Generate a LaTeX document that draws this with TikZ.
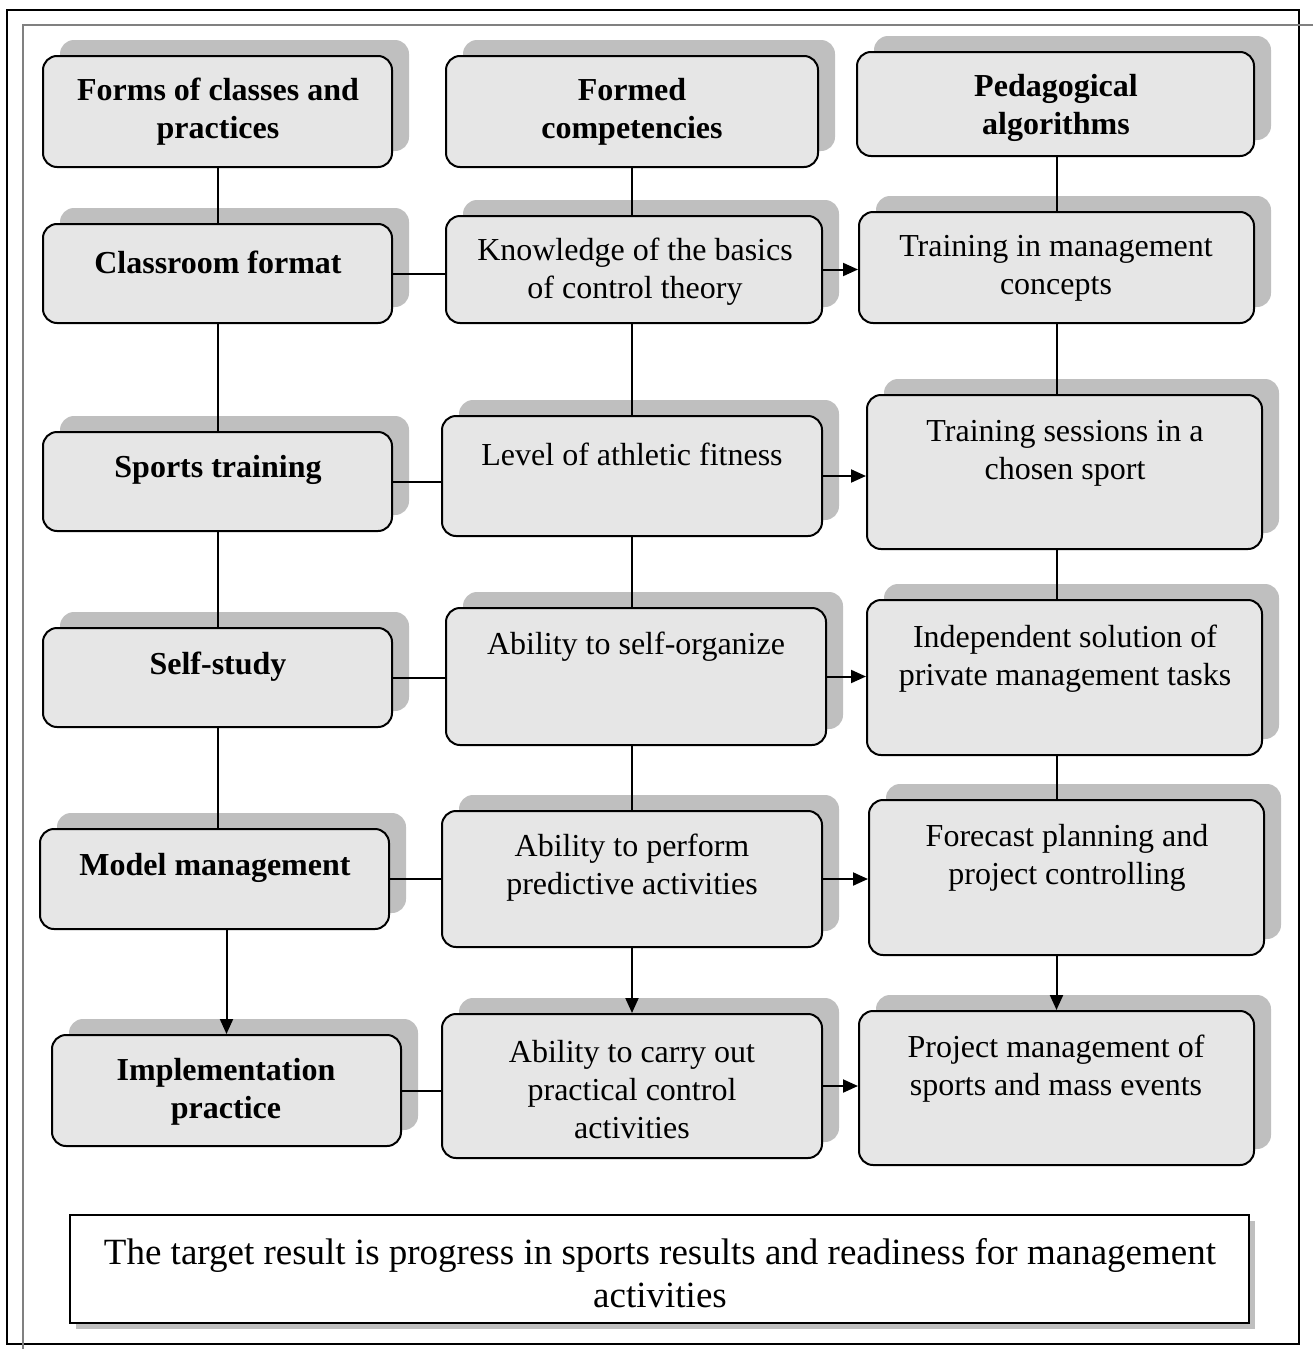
\documentclass[tikz,border=0pt]{standalone}
\usepackage{fontspec}
\setmainfont{Liberation Serif}
\usetikzlibrary{arrows.meta,fit}
\definecolor{boxfill}{HTML}{E6E6E6}
\definecolor{shadowc}{HTML}{BFBFBF}
\definecolor{framegray}{HTML}{808080}
\tikzset{
  box/.style={draw=black, line width=1pt, fill=boxfill, rounded corners=7pt, inner sep=0pt},
  shd/.style={fill=shadowc, rounded corners=7pt},
  txt/.style={align=center, font=\fontsize{16}{19}\selectfont, inner sep=0pt},
  btxt/.style={txt, font=\fontsize{16}{19}\selectfont\bfseries},
  conn/.style={line width=1pt},
  arr/.style={line width=1pt, -{Triangle[length=7.5pt,width=6.5pt]}}
}
\newcommand\mybox[5]{%
  \fill[shd, shift={(17,-16)}] (#2,#3) rectangle (#4,#5);
  \node[box, fit={(#2,#3)(#4,#5)}] (#1) {};
}
\begin{document}
\begin{tikzpicture}[x=0.5pt,y=-0.5pt]
\useasboundingbox (0,0) rectangle (1313,1349);
% frames
\draw[line width=1pt] (7,10) rectangle (1299,1344);
\draw[framegray, line width=0.8pt] (1313,25) -- (23,25) -- (23,1349);

% column 1
\mybox{forms}{43}{56}{392}{167}
\mybox{class}{43}{224}{392}{323}
\mybox{sports}{43}{432}{392}{531}
\mybox{self}{43}{628}{392}{727}
\mybox{model}{40}{829}{389}{929}
\mybox{impl}{52}{1035}{401}{1146}
% column 2
\mybox{formed}{446}{56}{818}{167}
\mybox{know}{446}{216}{822}{323}
\mybox{level}{442}{416}{822}{536}
\mybox{selforg}{446}{608}{826}{745}
\mybox{pred}{442}{811}{822}{947}
\mybox{carry}{442}{1014}{822}{1158}
% column 3
\mybox{ped}{857}{52}{1254}{156}
\mybox{train}{859}{212}{1254}{323}
\mybox{sess}{867}{395}{1262}{549}
\mybox{indep}{867}{600}{1262}{755}
\mybox{fore}{869}{800}{1264}{955}
\mybox{proj}{859}{1011}{1254}{1165}

% result box
\fill[shadowc] (76,1221) rectangle (1255,1329);
\node[draw=black, line width=1pt, fill=white, inner sep=0pt, fit={(70,1215)(1249,1323)}] (res) {};

% texts
\begin{scope}[shift={(0,6)}]
\node[btxt] (formsT) at (218,106) {Forms of classes and\\practices};
\node[btxt] (classT) at (218,256) {Classroom format};
\node[btxt] (sportsT) at (218,464) {Sports training};
\node[btxt] (selfT) at (218,661) {Self-study};
\node[btxt] (modelT) at (215,862) {Model management};
\node[btxt] (implT) at (226,1086) {Implementation\\practice};

\node[btxt] (formedT) at (632,106) {Formed\\competencies};
\node[txt] (knowT) at (635,266) {Knowledge of the basics\\of control theory};
\node[txt] (levelT) at (632,448) {Level of athletic fitness};
\node[txt] (selforgT) at (636,641) {Ability to self-organize};
\node[txt] (predT) at (632,862) {Ability to perform\\predictive activities};
\node[txt] (carryT) at (632,1084) {Ability to carry out\\practical control\\activities};

\node[btxt] (pedT) at (1056,102) {Pedagogical\\algorithms};
\node[txt] (trainT) at (1056,262) {Training in management\\concepts};
\node[txt] (sessT) at (1065,447) {Training sessions in a\\chosen sport};
\node[txt] (indepT) at (1065,653) {Independent solution of\\private management tasks};
\node[txt] (foreT) at (1067,852) {Forecast planning and\\project controlling};
\node[txt] (projT) at (1056,1063) {Project management of\\sports and mass events};

\node[txt, font=\fontsize{18.5}{21.5}\selectfont] (resT) at (660,1267) {The target result is progress in sports results and readiness for management\\activities};
\end{scope}

% column 1 connectors
\draw[conn] (forms.south) -- (forms.south |- class.north);
\draw[conn] (class.south) -- (class.south |- sports.north);
\draw[conn] (sports.south) -- (sports.south |- self.north);
\draw[conn] (self.south) -- (self.south |- model.north);
\draw[arr] (impl.north |- model.south) -- (impl.north);
% column 2 connectors
\draw[conn] (formed.south) -- (formed.south |- know.north);
\draw[conn] (know.south -| formed.south) -- (formed.south |- level.north);
\draw[conn] (level.south) -- (level.south |- selforg.north);
\draw[conn] (selforg.south -| level.south) -- (level.south |- pred.north);
\draw[arr] (pred.south) -- (carry.north);
% column 3 connectors
\draw[conn] (train.north |- ped.south) -- (train.north);
\draw[conn] (train.south) -- (train.south |- sess.north);
\draw[conn] (sess.south -| train.south) -- (train.south |- indep.north);
\draw[conn] (indep.south -| train.south) -- (train.south |- fore.north);
\draw[arr] (fore.south -| proj.north) -- (proj.north);
% horizontal connectors
\draw[conn] (class.east) -- (class.east -| know.west);
\draw[conn] (sports.east) -- (sports.east -| level.west);
\draw[conn] (self.east) -- (self.east -| selforg.west);
\draw[conn] (model.east) -- (model.east -| pred.west);
\draw[conn] (impl.east) -- (impl.east -| carry.west);
\draw[arr] (know.east) -- (know.east -| train.west);
\draw[arr] (level.east) -- (level.east -| sess.west);
\draw[arr] (selforg.east) -- (selforg.east -| indep.west);
\draw[arr] (pred.east) -- (pred.east -| fore.west);
\draw[arr] (carry.east) -- (carry.east -| proj.west);
\end{tikzpicture}
\end{document}
